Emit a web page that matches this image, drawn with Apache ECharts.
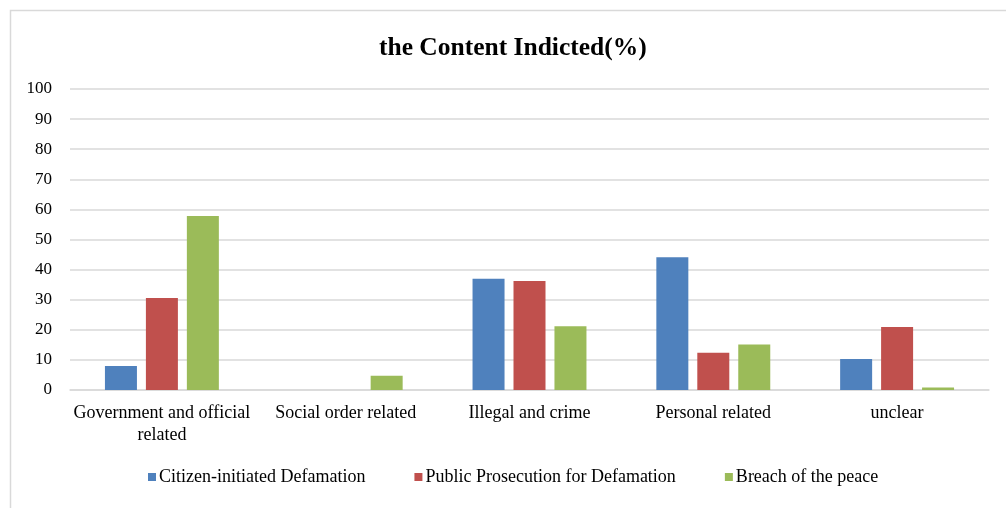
<!DOCTYPE html>
<html>
<head>
<meta charset="utf-8">
<script src="https://cdn.jsdelivr.net/npm/echarts@6/dist/echarts.min.js"></script>
<style>
html,body{margin:0;padding:0;background:#fff;}
#chart{width:1006px;height:508px;}
</style>
</head>
<body>
<div id="chart"></div>
<script>
const categories = ["Government and official\nrelated", "Social order related", "Illegal and crime", "Personal related", "unclear"];
const seriesNames = ["Citizen-initiated Defamation", "Public Prosecution for Defamation", "Breach of the peace"];
const citizen = [8.0, null, 37.0, 44.1, 10.3];
const prosecution = [30.6, null, 36.2, 12.4, 20.9];
const breach = [57.8, 4.7, 21.2, 15.1, 0.8];
const colors = ["#4f81bd", "#c0504d", "#9bbb59"];

const chart = echarts.init(document.getElementById('chart'));
const font = "'Liberation Serif', 'Times New Roman', serif";
const mk = (name, data, i) => ({
  name: name, type: 'bar', data: data, barWidth: 32, barGap: '28%',
  itemStyle: { color: colors[i] }
});
chart.setOption({
  animation: false,
  backgroundColor: '#fff',
  graphic: [{
    type: 'rect', left: 8, top: 8, shape: { width: 1100, height: 600 },
    style: { fill: 'none', stroke: '#d9d9d9', lineWidth: 1.5 }, silent: true
  }],
  title: {
    text: 'the Content Indicted(%)', left: 374, top: 30,
    textStyle: { fontFamily: font, fontSize: 25.5, fontWeight: 'bold', color: '#000' }
  },
  legend: {
    bottom: 17, left: 143, itemWidth: 8, itemHeight: 8, itemGap: 49,
    icon: 'rect',
    textStyle: { fontFamily: font, fontSize: 18, color: '#000', padding: [0, 0, 0, -2] },
    data: seriesNames
  },
  grid: { left: 70, right: 17, top: 89, bottom: 118, containLabel: false },
  xAxis: {
    type: 'category', data: categories,
    axisLine: { lineStyle: { color: '#d9d9d9', width: 1.5 } },
    axisTick: { show: false },
    axisLabel: { fontFamily: font, fontSize: 18, color: '#000', margin: 12, lineHeight: 22, interval: 0 }
  },
  yAxis: {
    type: 'value', min: 0, max: 100, interval: 10,
    axisLine: { show: false }, axisTick: { show: false },
    axisLabel: { fontFamily: font, fontSize: 17, color: '#000', margin: 18 },
    splitLine: { lineStyle: { color: '#d9d9d9', width: 1.5 } }
  },
  series: [mk(seriesNames[0], citizen, 0), mk(seriesNames[1], prosecution, 1), mk(seriesNames[2], breach, 2)]
});
</script>
</body>
</html>
